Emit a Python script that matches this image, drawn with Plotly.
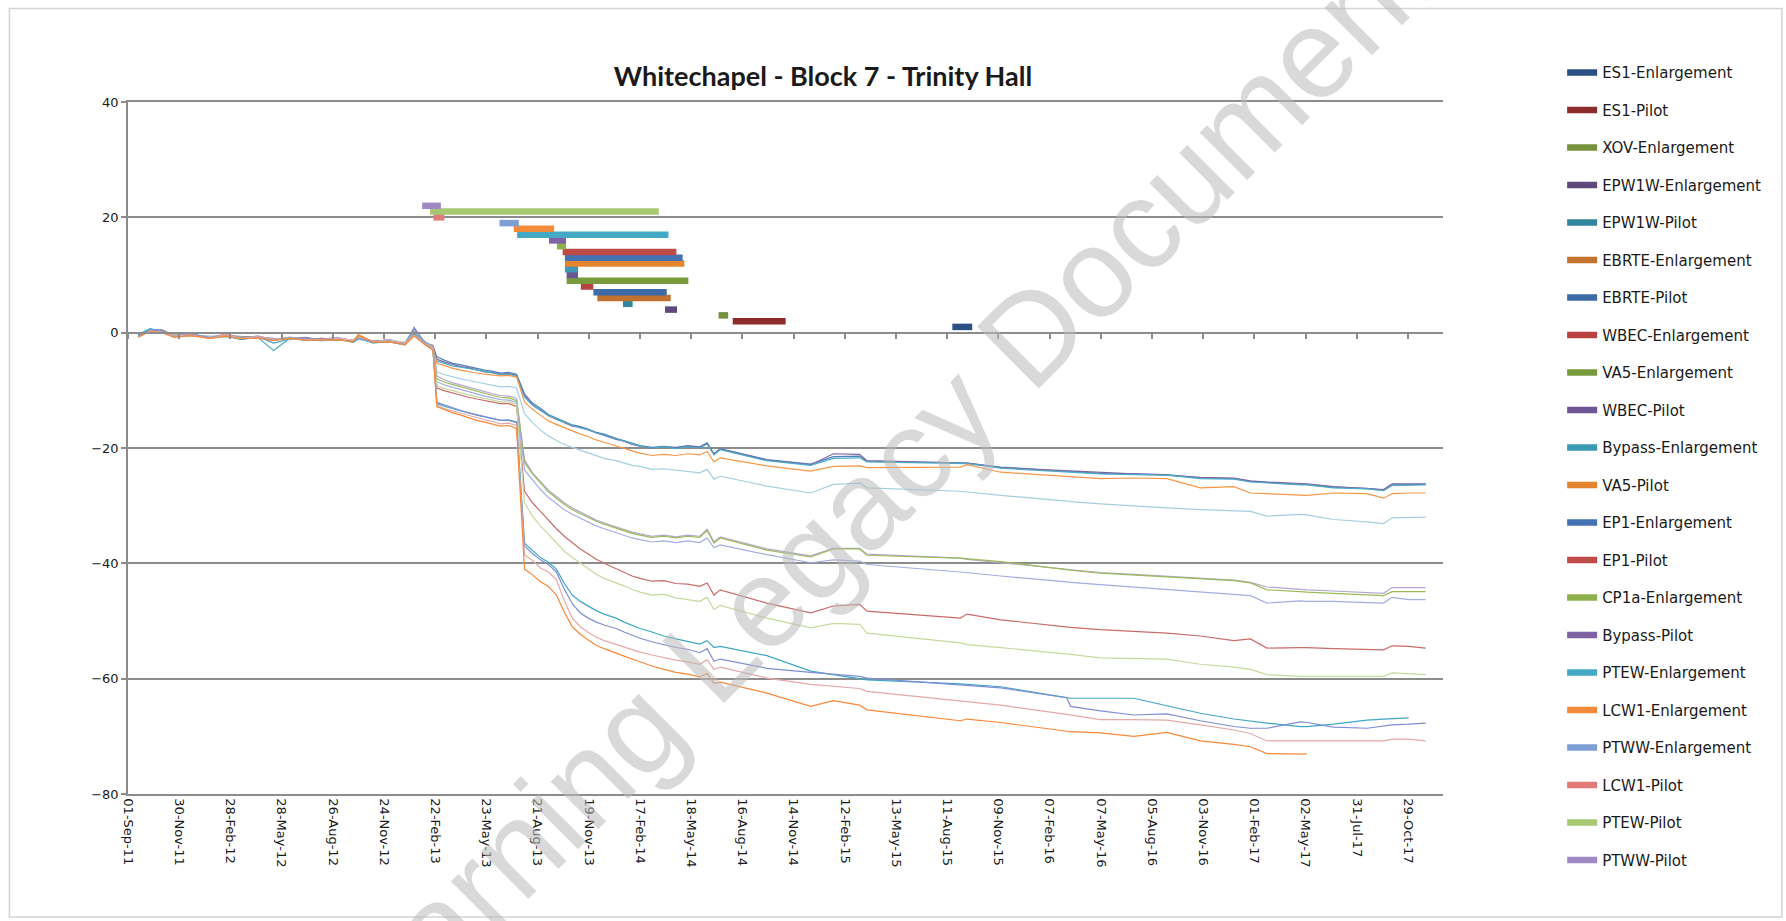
import plotly.graph_objects as go

# reading dates shared by all monitoring points
dates = [
    "2011-09-19", "2011-10-10", "2011-10-31", "2011-11-21", "2011-12-19", "2012-01-23",
    "2012-02-20", "2012-03-19", "2012-04-16", "2012-05-14", "2012-06-11", "2012-07-09",
    "2012-08-06", "2012-09-03", "2012-10-01", "2012-10-10", "2012-11-05", "2012-12-03",
    "2012-12-31", "2013-01-16", "2013-02-04", "2013-02-18",
    "2013-02-25", "2013-03-11", "2013-03-25", "2013-04-08", "2013-04-22", "2013-05-06",
    "2013-05-20", "2013-06-03", "2013-06-17", "2013-07-01", "2013-07-15", "2013-07-29",
    "2013-08-12", "2013-08-26", "2013-09-09", "2013-09-23", "2013-10-07", "2013-10-21",
    "2013-11-04", "2013-11-18", "2013-12-02", "2013-12-16", "2014-01-06", "2014-01-20",
    "2014-02-03", "2014-02-17", "2014-03-10", "2014-03-31", "2014-04-21", "2014-05-12",
    "2014-06-02",
    "2014-06-15", "2014-06-27", "2014-07-08", "2014-09-28", "2014-12-14", "2015-01-23",
    "2015-03-10", "2015-03-23", "2015-09-03", "2015-09-15", "2015-11-13", "2016-03-08",
    "2016-03-15", "2016-05-06", "2016-07-04", "2016-08-31", "2016-10-29", "2016-12-27",
    "2017-01-25", "2017-02-23", "2017-04-23", "2017-05-04", "2017-06-20", "2017-08-18",
    "2017-09-16", "2017-10-01", "2017-10-30", "2017-11-29",
]

point_a1 = [-0.5, 0.6, 0.3, -0.4, -0.2, -0.8, -0.3, -0.9, -0.6, -1.2, -0.8, -1.0, -1.1, -0.9, -1.4, -0.7, -1.5, -1.3, -1.8, 0.4, -1.6, -2.4,
            -4.2, -4.8, -5.3, -5.6, -5.9, -6.3, -6.5, -6.7, -7.0, -6.9, -7.2, -10.6, -12.2, -13.1, -14.2, -14.8, -15.4, -16.0, -16.3, -16.7, -17.3, -17.6, -18.3, -18.7, -19.2, -19.6, -19.9, -19.7, -19.9, -19.6, -19.8,
            -19.1, -21.0, -20.1, -22.0, -22.8, -21.5, -21.4, -22.3, -22.6, -22.6, -23.3, -24.1, -24.1, -24.4, -24.5, -24.6, -25.2, -25.3, -25.8, -26.0, -26.3, -26.3, -26.8, -27.0, -27.3, -26.4, -26.3, -26.3]
point_a2 = [-0.8, 0.4, 0.5, -0.6, -0.1, -1.0, -0.5, -0.7, -0.9, -1.0, -1.1, -0.8, -1.3, -1.2, -1.2, -1.0, -1.7, -1.2, -2.0, 0.9, -1.9, -2.2,
            -4.6, -5.1, -5.5, -5.9, -6.1, -6.5, -6.8, -6.9, -7.2, -7.1, -7.4, -10.9, -12.5, -13.4, -14.4, -15.0, -15.6, -16.2, -16.4, -16.9, -17.4, -17.8, -18.5, -18.8, -19.4, -19.7, -20.0, -19.8, -20.0, -19.7, -19.9,
            -19.2, -21.1, -20.2, -22.1, -22.9, -21.0, -21.1, -22.2, -22.5, -22.6, -23.4, -24.0, -24.0, -24.3, -24.5, -24.7, -25.1, -25.2, -25.7, -25.9, -26.2, -26.2, -26.7, -27.0, -27.2, -26.2, -26.2, -26.2]
point_a3 = [-0.3, 0.7, 0.1, -0.6, -0.5, -0.7, -0.6, -1.1, -0.8, -3.1, -1.0, -1.3, -1.2, -1.1, -1.6, -0.9, -1.8, -1.5, -1.9, 0.1, -1.7, -2.7,
            -4.9, -5.4, -5.8, -6.0, -6.2, -6.4, -6.7, -7.0, -7.3, -7.2, -7.5, -11.2, -12.6, -13.5, -14.3, -14.9, -15.5, -16.1, -16.5, -16.8, -17.4, -17.7, -18.4, -18.8, -19.3, -19.7, -20.0, -19.8, -20.1, -19.8, -20.0,
            -19.3, -21.2, -20.3, -22.2, -23.0, -21.8, -21.7, -22.4, -22.7, -22.7, -23.5, -24.2, -24.2, -24.5, -24.6, -24.7, -25.3, -25.4, -25.9, -26.1, -26.4, -26.4, -26.9, -27.1, -27.4, -26.5, -26.4, -26.4]
point_a4 = [-0.7, 0.3, 0.2, -0.7, -0.4, -0.9, -0.2, -1.0, -0.7, -1.3, -0.8, -1.2, -1.0, -1.3, -1.4, -0.3, -1.6, -1.4, -2.0, -0.3, -1.9, -2.6,
            -5.3, -5.8, -6.2, -6.5, -6.8, -7.0, -7.2, -7.3, -7.5, -7.4, -7.7, -12.0, -13.3, -14.3, -15.3, -15.9, -16.5, -17.1, -17.6, -18.0, -18.6, -19.0, -19.7, -20.1, -20.5, -20.9, -21.3, -21.1, -21.3, -21.0, -21.2,
            -20.6, -22.4, -21.7, -23.1, -24.0, -23.2, -23.1, -23.4, -23.3, -22.9, -24.2, -24.9, -25.0, -25.3, -25.2, -25.3, -26.9, -26.7, -27.8, -27.9, -28.2, -28.2, -27.8, -27.9, -28.7, -27.9, -27.8, -27.8]
point_a5 = [-0.6, 0.5, 0.0, -0.3, -0.6, -0.6, -0.8, -0.8, -1.0, -1.1, -1.2, -1.0, -1.4, -1.0, -1.3, -1.2, -1.4, -1.6, -1.7, 0.6, -2.0, -3.0,
            -6.8, -7.3, -7.7, -8.0, -8.3, -8.6, -8.9, -9.1, -9.4, -9.3, -9.6, -14.0, -15.6, -16.9, -17.9, -18.7, -19.4, -19.9, -20.4, -20.9, -21.4, -21.8, -22.2, -22.6, -23.0, -23.2, -23.7, -23.6, -23.8, -24.0, -24.3,
            -23.7, -25.4, -24.9, -26.6, -27.8, -26.3, -26.1, -26.9, -27.5, -27.6, -28.2, -29.2, -29.3, -29.7, -30.1, -30.4, -30.7, -30.9, -31.0, -31.8, -31.5, -31.6, -32.4, -32.8, -33.1, -32.1, -32.0, -32.0]
point_b1 = [-0.4, 0.4, 0.2, -0.5, -0.4, -0.7, -0.5, -0.9, -0.8, -1.2, -0.9, -1.0, -1.3, -1.0, -1.4, -0.9, -1.5, -1.2, -1.8, 0.8, -1.7, -2.3,
            -7.5, -8.2, -8.7, -9.1, -9.5, -9.9, -10.3, -10.6, -10.9, -11.0, -11.4, -22.0, -24.3, -25.8, -27.3, -28.4, -29.5, -30.4, -31.1, -31.8, -32.5, -33.0, -33.7, -34.1, -34.6, -34.9, -35.3, -35.1, -35.4, -35.1, -35.3,
            -34.1, -36.3, -35.4, -37.5, -38.7, -37.4, -37.4, -38.4, -39.1, -39.3, -39.9, -41.0, -41.1, -41.6, -41.9, -42.2, -42.6, -42.9, -43.3, -44.1, -44.5, -44.6, -44.8, -45.0, -45.2, -44.2, -44.2, -44.2]
point_b2 = [-0.6, 0.3, 0.4, -0.4, -0.3, -0.8, -0.6, -0.8, -1.0, -1.1, -1.0, -1.2, -1.1, -1.3, -1.3, -0.6, -1.6, -1.5, -1.7, 0.3, -1.9, -2.4,
            -8.0, -8.6, -9.0, -9.4, -9.8, -10.2, -10.6, -10.9, -11.2, -11.3, -11.8, -22.5, -24.5, -26.1, -27.6, -28.7, -29.8, -30.7, -31.4, -32.0, -32.7, -33.2, -33.9, -34.3, -34.8, -35.1, -35.5, -35.3, -35.6, -35.3, -35.5,
            -34.3, -36.5, -35.6, -37.7, -38.9, -37.5, -37.5, -38.6, -39.1, -39.2, -39.7, -41.1, -41.2, -41.7, -42.0, -42.3, -42.7, -43.0, -43.4, -44.6, -44.9, -45.0, -45.2, -45.4, -45.6, -44.9, -44.9, -44.9]
point_b3 = [-0.5, 0.5, 0.1, -0.6, -0.2, -0.9, -0.4, -1.0, -0.6, -1.2, -0.9, -1.1, -1.2, -0.8, -1.4, -1.0, -1.4, -1.4, -1.9, 0.5, -1.8, -2.6,
            -8.5, -9.1, -9.5, -9.9, -10.2, -10.6, -11.0, -11.3, -11.6, -11.7, -12.1, -23.8, -25.6, -27.2, -28.6, -29.7, -30.7, -31.5, -32.2, -32.9, -33.5, -34.0, -34.7, -35.1, -35.6, -35.9, -36.3, -36.1, -36.4, -36.1, -36.4,
            -35.6, -37.3, -36.8, -38.5, -39.9, -39.4, -39.6, -40.2, -41.5, -41.6, -42.2, -43.2, -43.3, -43.7, -44.1, -44.6, -45.0, -45.3, -45.6, -46.9, -46.5, -46.6, -46.6, -46.8, -46.9, -45.9, -46.3, -46.3]
point_c1 = [-0.6, 0.2, 0.3, -0.5, -0.5, -0.8, -0.5, -0.9, -0.9, -1.1, -1.0, -1.2, -1.0, -1.2, -1.4, -0.9, -1.5, -1.4, -1.8, -0.2, -2.0, -2.5,
            -9.6, -10.1, -10.5, -10.9, -11.2, -11.5, -11.8, -12.0, -12.3, -12.3, -12.8, -27.5, -29.5, -31.0, -32.5, -34.0, -35.3, -36.4, -37.5, -38.4, -39.3, -40.0, -40.9, -41.5, -42.2, -42.6, -43.1, -43.0, -43.5, -43.6, -44.0,
            -43.4, -45.5, -44.6, -46.9, -48.6, -47.4, -47.1, -48.3, -49.5, -48.8, -49.8, -51.0, -51.1, -51.5, -51.8, -52.1, -52.6, -53.4, -53.1, -54.7, -54.6, -54.6, -54.8, -54.9, -55.0, -54.3, -54.4, -54.7]
point_c2 = [-0.7, 0.4, 0.0, -0.4, -0.6, -0.7, -0.7, -0.8, -0.9, -1.2, -0.8, -1.1, -1.3, -1.1, -1.3, -1.0, -1.6, -1.3, -1.7, 0.0, -1.8, -2.6,
            -9.2, -9.7, -10.1, -10.5, -10.8, -11.1, -11.4, -11.7, -12.0, -12.0, -12.4, -29.5, -31.8, -33.5, -35.0, -36.5, -37.9, -39.0, -40.0, -41.0, -41.9, -42.6, -43.3, -43.9, -44.5, -45.0, -45.5, -45.4, -46.0, -46.3, -46.6,
            -45.9, -48.0, -47.3, -49.5, -51.2, -50.4, -50.6, -52.1, -53.8, -54.1, -54.6, -55.7, -55.8, -56.4, -56.5, -56.6, -57.5, -58.0, -58.4, -59.3, -59.6, -59.6, -59.6, -59.6, -59.6, -59.0, -59.2, -59.3]
point_d1 = [-0.4, 0.6, 0.2, -0.7, -0.4, -0.9, -0.6, -1.2, -0.7, -1.8, -1.1, -1.2, -1.4, -1.1, -1.7, -1.0, -1.7, -1.6, -2.1, -0.1, -2.0, -2.9,
            -12.3, -12.8, -13.2, -13.6, -14.0, -14.3, -14.6, -14.9, -15.2, -15.1, -15.5, -36.5, -37.8, -39.0, -39.8, -41.0, -43.5, -45.5, -46.6, -47.4, -48.2, -48.8, -49.5, -50.2, -50.8, -51.3, -51.9, -52.6, -53.1, -53.5, -54.0,
            -53.4, -54.6, -54.4, -56.0, -58.7, -59.3, -59.9, -60.2, -60.9, -61.0, -61.4, -63.3, -63.4, -63.4, -63.4, -64.7, -66.0, -67.0, -67.4, -67.7, -68.3, -68.3, -67.9, -67.2, -67.0, -66.9, -66.8, None]
point_d2 = [-0.6, 0.5, 0.3, -0.5, -0.3, -0.8, -0.5, -0.9, -0.8, -1.3, -0.9, -1.0, -1.2, -1.2, -1.5, -0.9, -1.6, -1.4, -1.9, 0.7, -1.8, -2.7,
            -12.1, -12.6, -13.1, -13.5, -13.9, -14.2, -14.6, -14.9, -15.2, -15.2, -15.6, -37.0, -38.3, -39.4, -40.2, -41.5, -44.5, -47.0, -48.6, -49.5, -50.2, -50.7, -51.3, -51.9, -52.5, -53.0, -53.6, -54.1, -54.6, -54.9, -55.5,
            -54.8, -57.0, -56.6, -58.2, -58.9, -59.2, -59.6, -59.9, -61.0, -61.1, -61.6, -63.3, -64.8, -65.6, -66.3, -66.1, -67.3, -68.3, -68.6, -68.6, -67.5, -67.6, -68.4, -68.6, -68.2, -68.0, -67.9, -67.7]
point_d3 = [-0.8, 0.3, 0.1, -0.6, -0.4, -1.0, -0.4, -1.0, -0.7, -1.1, -1.1, -1.1, -1.2, -1.0, -1.3, -0.8, -1.5, -1.5, -1.8, -0.4, -1.9, -2.8,
            -12.6, -13.2, -13.6, -14.0, -14.4, -14.8, -15.1, -15.4, -15.8, -15.7, -16.1, -38.5, -39.5, -40.8, -41.5, -42.8, -46.5, -49.5, -51.0, -52.0, -52.8, -53.4, -54.1, -54.6, -55.0, -55.4, -55.9, -56.4, -56.8, -57.1, -57.5,
            -56.7, -58.4, -58.0, -59.9, -61.0, -61.3, -61.7, -62.2, -63.8, -63.9, -64.6, -66.2, -66.3, -67.1, -67.1, -67.2, -68.0, -68.9, -69.5, -70.8, -70.8, -70.8, -70.8, -70.8, -70.8, -70.5, -70.5, -70.8]
point_d4 = [-0.7, 0.2, 0.0, -0.8, -0.5, -1.0, -0.6, -1.1, -0.9, -1.4, -1.0, -1.3, -1.3, -1.2, -1.6, -0.4, -1.7, -1.6, -2.1, -0.6, -2.1, -3.0,
            -12.8, -13.4, -13.9, -14.3, -14.8, -15.2, -15.5, -15.8, -16.2, -16.1, -16.6, -41.0, -42.0, -43.2, -44.0, -45.5, -48.5, -51.0, -52.3, -53.3, -54.2, -54.8, -55.5, -56.1, -56.6, -57.1, -57.8, -58.4, -58.9, -59.2, -59.7,
            -59.1, -60.8, -60.6, -62.5, -64.8, -63.8, -64.6, -65.4, -67.3, -67.0, -67.6, -69.1, -69.2, -69.4, -70.0, -69.3, -70.8, -71.4, -71.8, -73.0, -73.1, -73.1, None, None, None, None, None, None]

points = [point_a1, point_a2, point_a3, point_a4, point_a5, point_b1, point_b2, point_b3,
          point_c1, point_c2, point_d1, point_d2, point_d3, point_d4]
point_colors = ["#4F81BD", "#8064A2", "#4BACC6", "#F79646", "#A5CFE0", "#B5A5CF", "#9BBB59", "#A3AEE0",
                "#C96B69", "#C5DA9E", "#3FA7C4", "#7E8ED3", "#E5A9A8", "#F7883A"]
for p in points:
    assert len(p) == len(dates), len(p)

# works programme
tasks = ["ES1-Enlargement", "ES1-Pilot", "XOV-Enlargement", "EPW1W-Enlargement", "EPW1W-Pilot",
         "EBRTE-Enlargement", "EBRTE-Pilot", "WBEC-Enlargement", "VA5-Enlargement", "WBEC-Pilot",
         "Bypass-Enlargement", "VA5-Pilot", "EP1-Enlargement", "EP1-Pilot", "CP1a-Enlargement",
         "Bypass-Pilot", "PTEW-Enlargement", "LCW1-Enlargement", "PTWW-Enlargement", "LCW1-Pilot",
         "PTEW-Pilot", "PTWW-Pilot"]
task_start = ["2015-08-20", "2014-07-30", "2014-07-05", "2014-04-02", "2014-01-18",
              "2013-12-04", "2013-11-27", "2013-11-05", "2013-10-11", "2013-10-11",
              "2013-10-08", "2013-10-08", "2013-10-08", "2013-10-04", "2013-09-24",
              "2013-09-10", "2013-07-16", "2013-07-10", "2013-06-15", "2013-02-19",
              "2013-02-13", "2013-01-30"]
task_end = ["2015-09-24", "2014-10-31", "2014-07-22", "2014-04-23", "2014-02-04",
            "2014-04-12", "2014-04-05", "2013-11-27", "2014-05-13", "2013-10-31",
            "2013-10-31", "2014-05-06", "2014-05-03", "2014-04-22", "2013-10-10",
            "2013-10-10", "2014-04-08", "2013-09-19", "2013-07-19", "2013-03-10",
            "2014-03-22", "2013-03-04"]
task_level = list(range(1, 23))
task_colors = ["#2C4F86", "#8E2B2B", "#76923C", "#5F497A", "#31859C",
               "#C2712E", "#3D6BA8", "#B9413F", "#789A3D", "#6E5596",
               "#3A9AB3", "#E5842F", "#4572B5", "#BE4B48", "#8DB04A",
               "#7E62A3", "#43A9C4", "#F38B3A", "#7E9FD6", "#E07B78",
               "#A6C873", "#A08AC6"]

fig = go.Figure()
for vals, color in zip(points, point_colors):
    fig.add_trace(go.Scatter(x=dates, y=vals, mode="lines", showlegend=False,
                             line=dict(color=color, width=1.2), hoverinfo="skip"))
for name, s, e, lvl, color in zip(tasks, task_start, task_end, task_level, task_colors):
    fig.add_trace(go.Scatter(x=[s, e], y=[lvl, lvl], mode="lines", name=name, legendgroup=name,
                             line=dict(color=color, width=6.5), xaxis="x2"))

axis_grey = "#8c8c8c"
tick_font = dict(family="DejaVu Sans", size=13, color="#1a1a1a")
day_ms = 86400000

fig.update_layout(
    width=1786, height=921,
    paper_bgcolor="white", plot_bgcolor="white",
    margin=dict(l=128, r=343, t=102, b=127, autoexpand=False),
    title=dict(text="<b>Whitechapel - Block 7 - Trinity Hall</b>", x=823 / 1786, xanchor="center",
               y=1 - 77 / 921, yanchor="middle", font=dict(family="Lato", size=27, color="#1a1a1a")),
    xaxis=dict(type="date", range=["2011-09-01", "2017-12-29 12:00"], tick0="2011-09-01",
               dtick=90 * day_ms, tickformat="%d-%b-%y", tickangle=90, showgrid=False,
               showline=True, mirror=True, linecolor=axis_grey, linewidth=1.5, ticks="",
               tickfont=tick_font),
    xaxis2=dict(type="date", overlaying="x", matches="x", anchor="free", position=80 / 120,
                tick0="2011-09-01", dtick=90 * day_ms, showline=True, linecolor=axis_grey,
                linewidth=1.5, ticks="outside", ticklen=6, tickcolor=axis_grey, tickwidth=1.5,
                showticklabels=False, showgrid=False),
    yaxis=dict(range=[-80, 40], dtick=20, showgrid=True, gridcolor=axis_grey, gridwidth=1.5,
               zeroline=False, showline=True, linecolor=axis_grey, linewidth=1.5,
               ticks="outside", ticklen=5, tickcolor=axis_grey, tickwidth=1.5, tickfont=tick_font),
    legend=dict(x=1.0906, y=1.066, xanchor="left", yanchor="top", tracegroupgap=15,
                traceorder="grouped", bgcolor="rgba(0,0,0,0)", maxheight=1,
                font=dict(family="DejaVu Sans", size=15, color="#1a1a1a")),
    shapes=[dict(type="rect", xref="paper", yref="paper", x0=-0.0902, x1=1.2577, y0=-0.1779, y1=1.1352,
                 line=dict(color="#d4d4d4", width=1.5), layer="below")],
    annotations=[dict(text="Learning Legacy Document", xref="paper", yref="paper",
                      x=(860 - 128) / 1315, y=(794 - 505) / 692, xanchor="center", yanchor="middle",
                      textangle=-45, showarrow=False,
                      font=dict(family="Liberation Sans", size=127, color="rgba(185,185,185,0.55)"))],
)

fig.write_html("out.html", config={"displayModeBar": False},
               post_script="document.body.style.margin='0';")
